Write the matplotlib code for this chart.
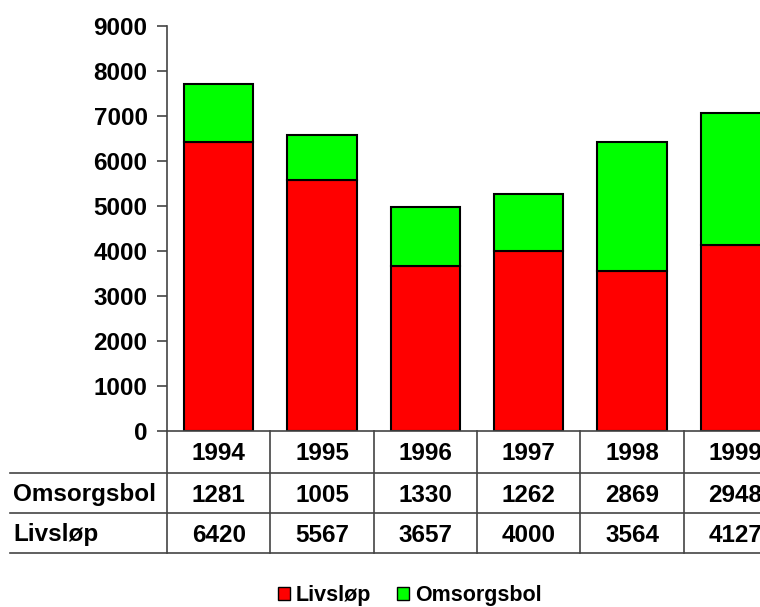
import matplotlib.pyplot as plt
import matplotlib.transforms as mtransforms
from matplotlib.patches import Patch

plt.rcParams['font.family'] = ['Liberation Sans', 'DejaVu Sans']
plt.rcParams['font.weight'] = 'bold'

# Data
years = ['1994', '1995', '1996', '1997', '1998', '1999']
livslop = [6420, 5567, 3657, 4000, 3564, 4127]
omsorgsbol = [1281, 1005, 1330, 1262, 2869, 2948]

fig = plt.figure(figsize=(7.6, 6.07), dpi=100)
W, H = 760, 607
# axes runs past the right edge, the last column is cut off like the original
ax = fig.add_axes([167 / W, 1 - 431 / H, 620 / W, 405 / H])

x = list(range(len(years)))
ax.bar(x, livslop, width=0.67, color='#ff0000', edgecolor='black', linewidth=1.5, label='Livsløp')
ax.bar(x, omsorgsbol, width=0.67, bottom=livslop, color='#00ff00', edgecolor='black', linewidth=1.5, label='Omsorgsbol')

ax.set_xlim(-0.5, len(years) - 0.5)
ax.set_ylim(0, 9000)
ax.set_yticks(range(0, 9001, 1000))
ax.tick_params(axis='y', labelsize=17.5, length=7, width=1.2, direction='out', pad=7, color='#444444')
ax.set_xticks([])
for s in ['top', 'right', 'bottom']:
    ax.spines[s].set_visible(False)
ax.spines['left'].set_color('#444444')
ax.spines['left'].set_linewidth(1.2)

# Data table under the chart
tr = mtransforms.blended_transform_factory(ax.transData, fig.transFigure)
def fy(py):
    return 1 - py / H

row_lines = [431, 473, 513, 553]
ax.plot([-0.5, len(years) - 0.5], [fy(431)] * 2, color='#444444', lw=1.2, transform=tr, clip_on=False)
for py in row_lines[1:]:
    fig.add_artist(plt.Line2D([10 / W, 1], [fy(py)] * 2, color='#444444', lw=1.2))
for i in range(len(years) + 1):
    ax.plot([i - 0.5, i - 0.5], [fy(431), fy(553)], color='#444444', lw=1.2, transform=tr, clip_on=False)

fs = 17.5
for i, yr in enumerate(years):
    ax.text(i, fy(454), yr, ha='center', va='center', fontsize=fs, transform=tr)
    ax.text(i, fy(495), str(omsorgsbol[i]), ha='center', va='center', fontsize=fs, transform=tr)
    ax.text(i, fy(535), str(livslop[i]), ha='center', va='center', fontsize=fs, transform=tr)

fig.text(13 / W, fy(494), 'Omsorgsbol', ha='left', va='center', fontsize=fs)
fig.text(13 / W, fy(534), 'Livsløp', ha='left', va='center', fontsize=fs)

handles = [Patch(facecolor='#ff0000', edgecolor='black', label='Livsløp'),
           Patch(facecolor='#00ff00', edgecolor='black', label='Omsorgsbol')]
fig.legend(handles=handles, loc='center', bbox_to_anchor=(410 / W, fy(596)), ncol=2, frameon=False,
           fontsize=15.5, handlelength=0.55, handleheight=0.55, handletextpad=0.3, columnspacing=1.2,
           borderpad=0, borderaxespad=0)

fig.savefig('out.png', dpi=100)
